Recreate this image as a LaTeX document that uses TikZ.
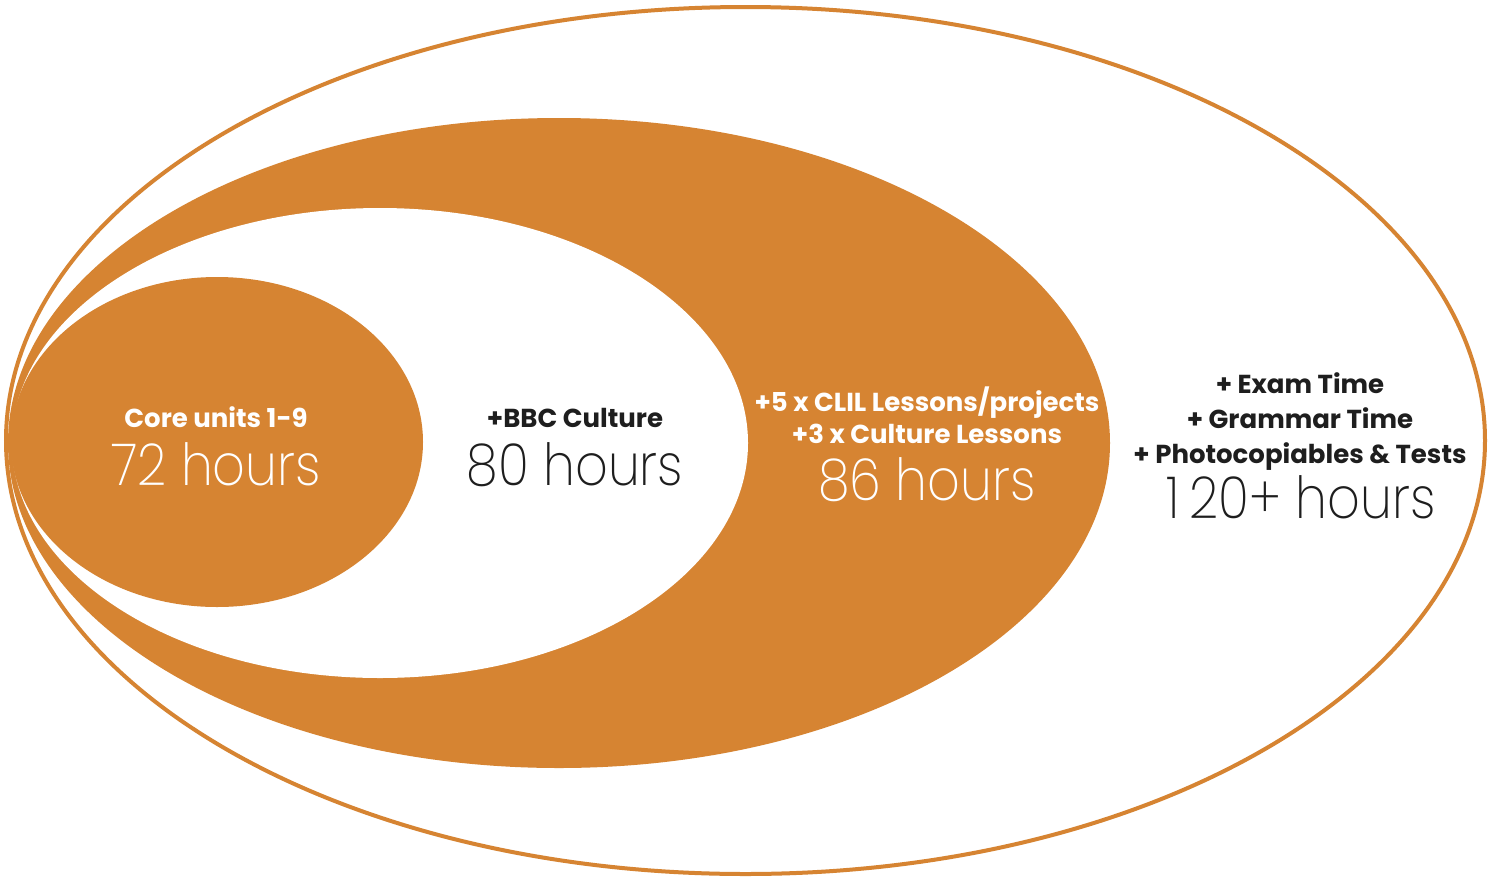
\documentclass[tikz,border=0pt]{standalone}
\usepackage{fontspec}
\setmainfont{Poppins}[BoldFont={Poppins Bold}]
\newfontfamily\lightfont{Poppins ExtraLight}[FakeStretch=0.88]
\definecolor{orng}{HTML}{D68432}
\definecolor{ink}{HTML}{1E1E1E}
\begin{document}
\begin{tikzpicture}[x=1pt,y=-1pt,
  lbl/.style={anchor=base,font=\fontsize{26}{26}\selectfont\bfseries,inner sep=0pt},
  big/.style={anchor=base,font=\fontsize{58}{58}\selectfont\lightfont,inner sep=0pt}]
\useasboundingbox (0,0) rectangle (1489,879);
\fill[white] (0,0) rectangle (1489,879);
\draw[orng,line width=4pt,fill=white] (745.5,440.5) ellipse [x radius=739.5,y radius=433.5];
\fill[orng] (559,443) ellipse [x radius=551,y radius=325];
\fill[white] (380,443) ellipse [x radius=368,y radius=235];
\fill[orng] (217,442) ellipse [x radius=206,y radius=165];
\node[lbl,white] (c1) at (216,427) {Core units 1-9};
\node[big,white] (h1) at (216,485) {72 hours};
\node[lbl,ink] (c2) at (575,427) {+BBC Culture};
\node[big,ink] (h2) at (575,485) {80 hours};
\node[lbl,white] (c3a) at (927,411) {+5 x CLIL Lessons/projects};
\node[lbl,white] (c3b) at (927,443) {+3 x Culture Lessons};
\node[big,white] (h3) at (927,500) {86 hours};
\node[lbl,ink] (c4a) at (1300,393) {+ Exam Time};
\node[lbl,ink] (c4b) at (1300,428) {+ Grammar Time};
\node[lbl,ink] (c4c) at (1300,463) {+ Photocopiables \& Tests};
\node[big,ink] (h4) at (1301,518) {1\hspace{10pt}20+ hours};
\end{tikzpicture}
\end{document}
